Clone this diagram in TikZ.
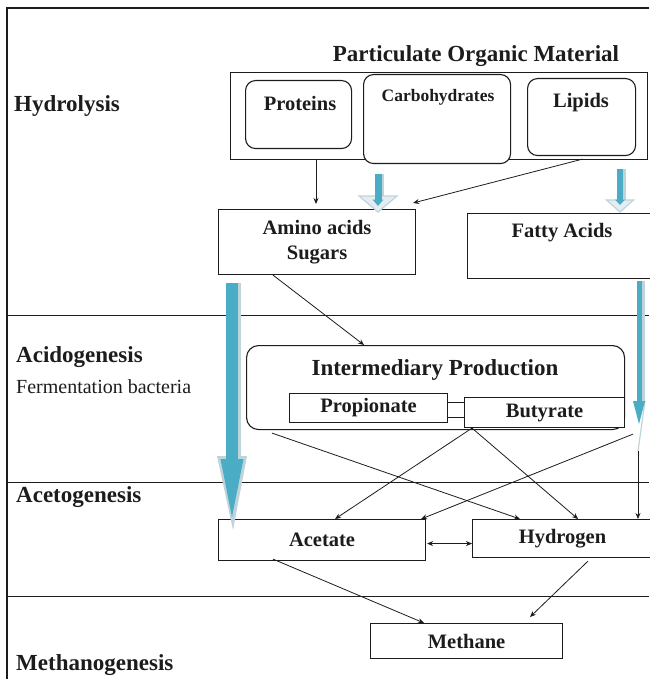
\documentclass[tikz,border=0pt]{standalone}
\usepackage{fontspec}
\setmainfont{Liberation Serif}
\usetikzlibrary{arrows.meta,calc}
\definecolor{aqua}{HTML}{4BACC6}
\definecolor{aqualight}{HTML}{BFD3DB}
\definecolor{aquapale}{HTML}{E4EEF2}
\definecolor{ink}{HTML}{1C1C1C}
\begin{document}
\begin{tikzpicture}[x=1pt,y=-1pt,
  bx/.style={draw=ink, line width=1.1pt, rectangle, inner sep=0pt, anchor=north west},
  rbx/.style={bx, rounded corners=10pt},
  lbl/.style={font=\fontsize{23}{27}\selectfont\bfseries, inner sep=0pt, anchor=west, text=ink},
  ttl/.style={font=\fontsize{23}{27}\selectfont\bfseries, inner sep=0pt, text=ink},
  txt/.style={font=\fontsize{20.5}{25}\selectfont\bfseries, text=ink},
  conn/.style={draw=ink, line width=0.8pt, -{Stealth[length=6pt,width=5pt]}},
  dconn/.style={draw=ink, line width=0.8pt, {Stealth[length=6pt,width=5pt]}-{Stealth[length=6pt,width=5pt]}},
  sepline/.style={draw=ink, line width=1pt},
  frameline/.style={draw=ink, line width=1.4pt}]
\useasboundingbox (0,0) rectangle (649,679);

% frame and phase separators
\coordinate (fTL) at (7,8);
\coordinate (fBL) at (7,679);
\coordinate (fTR) at (649,8);
\draw[frameline] (fBL) -- (fTL) -- (fTR);
\coordinate (s1l) at (7,315);  \coordinate (s1r) at (649,315);
\coordinate (s2l) at (7,482);  \coordinate (s2r) at (649,482);
\coordinate (s3l) at (7,596);  \coordinate (s3r) at (649,596);
\draw[sepline] (s1l) -- (s1r);
\draw[sepline] (s2l) -- (s2r);
\draw[sepline] (s3l) -- (s3r);

% phase labels
\node[lbl] (lhyd) at (14,106) {Hydrolysis};
\node[lbl] (lacid) at (16,357) {Acidogenesis};
\node[lbl, font=\fontsize{20}{24}\selectfont] (lferm) at (16,387) {Fermentation bacteria};
\node[lbl] (laceto) at (16,497) {Acetogenesis};
\node[lbl] (lmeth) at (16,665) {Methanogenesis};

% particulate organic material
\node[ttl] (tpom) at (476,56) {Particulate Organic Material};
\node[bx, minimum width=417pt, minimum height=87pt] (pom) at (230,72) {};
\node[rbx, minimum width=106pt, minimum height=68pt] (prot) at (245,80) {};
\node[rbx, fill=white, minimum width=147pt, minimum height=89pt] (carb) at (363,74) {};
\node[rbx, minimum width=108pt, minimum height=77pt] (lip) at (527,78) {};
\node[txt, inner sep=0pt] (tprot) at (300,103) {Proteins};
\node[txt, inner sep=0pt, font=\fontsize{17.5}{21}\selectfont\bfseries] (tcarb) at (438,97) {Carbohydrates};
\node[txt, inner sep=0pt] (tlip) at (581,103) {Lipids};

% hydrolysis products
\node[bx, txt, align=center, minimum width=197pt, minimum height=65pt] (amino) at (218,209) {Amino acids\\Sugars};
\node[bx, minimum width=185pt, minimum height=65pt] (fatty) at (467,213) {};
\node[txt, inner sep=0pt] (tfatty) at (562,233) {Fatty Acids};

% intermediary production
\node[rbx, rounded corners=12pt, minimum width=378pt, minimum height=84pt] (inter) at (246,345) {};
\node[ttl] (tinter) at (435,370) {Intermediary Production};
\node[bx, txt, fill=white, minimum width=158pt, minimum height=29pt] (prop) at (289,393) {Propionate};
\node[bx, minimum width=17pt, minimum height=15pt] (link) at (447,402) {};
\node[bx, txt, fill=white, minimum width=160pt, minimum height=30pt] (but) at (464,397) {Butyrate};

% acetogenesis / methanogenesis products
\node[bx, txt, minimum width=207pt, minimum height=41pt] (acet) at (218,519) {Acetate};
\node[bx, txt, minimum width=180pt, minimum height=38pt] (hydg) at (472,519) {Hydrogen};
\node[bx, txt, minimum width=192pt, minimum height=35pt] (meth) at (370,623) {Methane};

% ---------- blue block arrows ----------
% carbohydrates -> amino acids / sugars
\coordinate (cs) at ($(carb.south west)+(15,10)$);
\coordinate (ce) at ($(amino.north west)+(160,3)$);
\fill[aquapale, draw=aqualight, line width=1.2pt] ($(ce)+(-19,-16)$) -- (ce) -- ($(ce)+(19,-16)$) -- cycle;
\fill[aqualight] ($(cs)+(3.5,0)$) rectangle ($(ce)+(6,-16)$);
\fill[aqua] ($(cs)+(-3.5,0)$) rectangle ($(ce)+(3.5,-12)$);
\fill[aqua] ($(ce)+(-5.5,-12.5)$) -- ($(ce)+(5.5,-12.5)$) -- ($(ce)+(0,-6)$) -- cycle;

% lipids -> fatty acids
\coordinate (ls) at ($(lip.south west)+(93,13)$);
\coordinate (le) at ($(fatty.north west)+(153,-1)$);
\fill[aquapale, draw=aqualight, line width=1.2pt] ($(le)+(-13.5,-12)$) -- (le) -- ($(le)+(13.5,-12)$) -- cycle;
\fill[aqualight] ($(ls)+(3,0)$) rectangle ($(le)+(5.5,-12)$);
\fill[aqua] ($(ls)+(-3,0)$) rectangle ($(le)+(3,-12)$);
\fill[aqua] ($(le)+(-5,-12.5)$) -- ($(le)+(5,-12.5)$) -- ($(le)+(0,-7)$) -- cycle;

% amino acids / sugars -> acetate (large)
\coordinate (as) at ($(amino.south west)+(14,8)$);
\coordinate (ae) at ($(acet.north west)+(14,-2)$);
\fill[aqualight] ($(ae)+(-15,-61)$) -- ($(ae)+(15,-61)$) -- ($(ae)+(1,13)$) -- cycle;
\fill[aqualight] ($(as)+(6,0)$) rectangle ($(ae)+(9,-60)$);
\fill[aqua] ($(as)+(-6,0)$) rectangle ($(ae)+(6,-56)$);
\fill[aqua] ($(ae)+(-11.5,-58)$) -- ($(ae)+(11.5,-58)$) -- (ae) -- cycle;

% fatty acids -> hydrogen (thin)
\coordinate (fs) at ($(fatty.south west)+(172,2)$);
\coordinate (fe) at ($(fatty.south west)+(172,145)$);
\fill[aqualight] ($(fs)+(2.5,0)$) rectangle ($(fe)+(5.5,-23)$);
\draw[aqualight, line width=1.2pt] ($(fe)+(6,-23)$) -- ($(fe)+(-1,27)$);
\fill[aqua] ($(fs)+(-2.5,0)$) rectangle ($(fe)+(2.5,-21)$);
\fill[aqua] ($(fe)+(-6,-23)$) -- ($(fe)+(6,-23)$) -- (fe) -- cycle;

% ---------- thin connectors ----------
\draw[conn] ($(pom.south west)+(86,0)$) -- ($(amino.north west)+(98,-5)$);
\draw[conn] ($(lip.south)+(1,3)$) -- ($(amino.north east)+(-3,-6)$);
\draw[conn] ($(amino.south west)+(55,0)$) -- ($(inter.north west)+(118,0)$);
\draw[conn] ($(inter.south west)+(26,3)$) -- ($(hydg.north west)+(48,0)$);
\draw[conn] ($(but.south west)+(8,0)$) -- ($(acet.north west)+(117,0)$);
\draw[conn] ($(but.south west)+(8,0)$) -- ($(hydg.north west)+(106,0)$);
\draw[conn] ($(fe)+(-6,10)$) -- ($(acet.north east)+(-5,0)$);
\draw[conn] ($(fe)+(-1,27)$) -- ($(hydg.north west)+(166,0)$);
\draw[dconn] ($(acet.east)+(1,3.5)$) -- ($(hydg.west)+(0,5)$);
\draw[conn] ($(acet.south west)+(55,-2)$) -- ($(meth.north west)+(54,0)$);
\draw[conn] ($(hydg.south west)+(116,3)$) -- ($(meth.north west)+(160,-6)$);
\end{tikzpicture}
\end{document}
